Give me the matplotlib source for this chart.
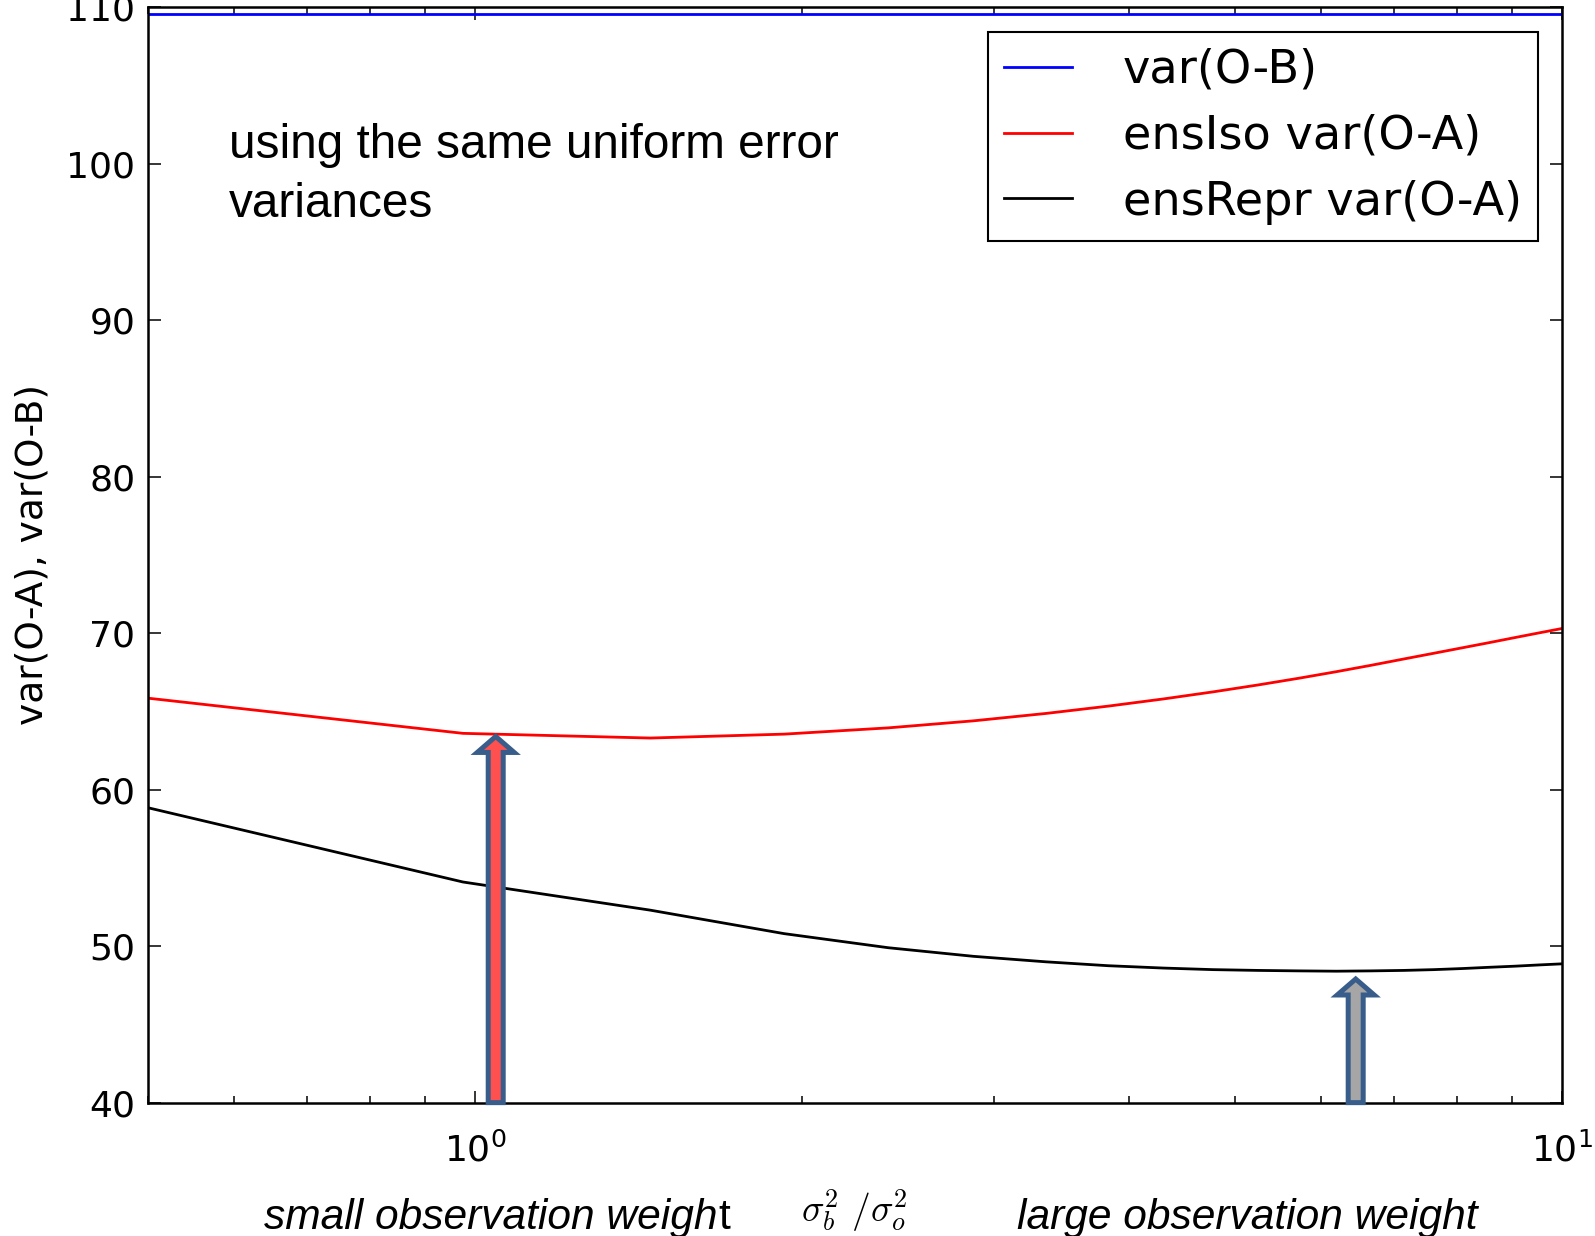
import matplotlib
matplotlib.use('Agg')
import matplotlib.pyplot as plt
from matplotlib.patches import FancyArrowPatch

# sigma_b^2 / sigma_o^2 sample points
ratio = [0.5, 0.975, 1.45, 1.925, 2.4, 2.875, 3.35, 3.825, 4.3, 4.775, 5.25,
         5.725, 6.2, 6.675, 7.15, 7.625, 8.1, 8.575, 9.05, 9.525, 10.0]

# innovation variance (flat) and analysis residual variances
var_omb = 109.55
ens_iso = [65.85, 63.6, 63.3, 63.55, 63.95, 64.4, 64.87, 65.34, 65.8, 66.25, 66.69,
           67.12, 67.54, 67.95, 68.35, 68.72, 69.07, 69.4, 69.72, 70.02, 70.3]
ens_repr = [58.85, 54.1, 52.3, 50.8, 49.9, 49.35, 49.0, 48.75, 48.6, 48.5, 48.45,
            48.42, 48.4, 48.42, 48.45, 48.5, 48.57, 48.65, 48.72, 48.8, 48.87]

# markers for the two optimal ratios
arrow_x = [1.045, 6.46]
arrow_tip = [63.4, 47.9]
arrow_fill = ['#FF5050', '#A6A6A6']

plt.rcParams['font.family'] = 'DejaVu Sans'

fig = plt.figure(figsize=(15.95, 12.36), dpi=100)
ax = fig.add_axes([0.0926, 0.1079, 0.8867, 0.8862])
ax.set_xscale('log')

ax.axhline(var_omb, color='b', lw=2.0, label='var(O-B)')
ax.plot(ratio, ens_iso, color='r', lw=2.0, label='ensIso var(O-A)')
ax.plot(ratio, ens_repr, color='k', lw=2.0, label='ensRepr var(O-A)')

ax.set_xlim(0.5, 10)
ax.set_ylim(40, 110)
ax.set_yticks(range(40, 111, 10))
ax.tick_params(which='both', direction='in', top=True, right=True, labelsize=26, width=1.1)
ax.tick_params(which='major', length=9, pad=9)
ax.tick_params(which='minor', length=5)
ax.tick_params(axis='x', pad=21)
for s in ax.spines.values():
    s.set_linewidth(1.8)

ax.set_ylabel('var(O-A), var(O-B)', fontsize=27)
ax.yaxis.set_label_coords(-0.069, 0.5)
ax.set_xlabel(r'$\sigma_b^2\ /\sigma_o^2$', fontsize=27, math_fontfamily='cm')
ax.xaxis.set_label_coords(0.5, -0.077)

for xa, ya, fc in zip(arrow_x, arrow_tip, arrow_fill):
    arr = FancyArrowPatch((xa, 40), (xa, ya),
                          arrowstyle='simple,head_length=1.15,head_width=2.66,tail_width=1.08',
                          mutation_scale=10, fc=fc, ec='#385D8A', lw=3.6,
                          joinstyle='miter', shrinkA=0, shrinkB=0,
                          clip_on=False, zorder=5)
    ax.add_patch(arr)

leg = ax.legend(loc='upper right', bbox_to_anchor=(0.9831, 0.9777), borderaxespad=0,
                fontsize=33.3, handlelength=1.46, handletextpad=1.1,
                borderpad=0.35, labelspacing=0.45, fancybox=False, framealpha=1)
leg.get_frame().set_edgecolor('k')
leg.get_frame().set_linewidth(1.5)

fig.text(0.1436, 0.8724, 'using the same uniform error', family='Liberation Sans',
         fontsize=34.4, va='baseline')
fig.text(0.1436, 0.8247, 'variances', family='Liberation Sans',
         fontsize=34.4, va='baseline')

t1 = fig.text(0.1658, 0.006, 'small observation weigh', style='italic',
              family='Liberation Sans', fontsize=30.6, va='baseline')
fig.canvas.draw()
bb = t1.get_window_extent()
fig.text(bb.x1 / fig.bbox.width, 0.006, 't', family='Liberation Sans',
         fontsize=30.6, va='baseline')
fig.text(0.6378, 0.006, 'large observation weight', style='italic',
         family='Liberation Sans', fontsize=30.6, va='baseline')

fig.savefig('out.png', dpi=100)
